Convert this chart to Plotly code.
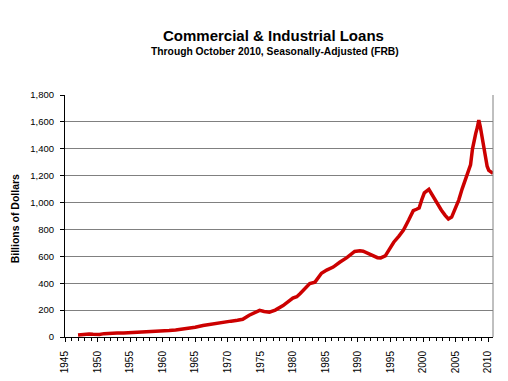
import plotly.graph_objects as go

# Data: Commercial & Industrial Loans, billions of dollars
years = [1947.0, 1947.5, 1948.0, 1948.7, 1949.3, 1949.8, 1950.3, 1951.0, 1951.8, 1953.0,
         1954.0, 1955.0, 1956.0, 1957.0, 1958.0, 1959.5, 1961.0, 1962.0, 1963.6, 1965.0,
         1966.2, 1967.5, 1969.3, 1970.5, 1971.5, 1972.3, 1973.3, 1974.2, 1974.9, 1975.6,
         1976.4, 1977.3, 1978.5, 1980.0, 1980.6, 1981.1, 1982.0, 1982.6, 1983.4, 1983.9,
         1984.4, 1985.2, 1986.2, 1987.2, 1988.3, 1989.5, 1990.3, 1990.8, 1991.5, 1992.1,
         1993.0, 1993.5, 1994.2, 1994.8, 1995.5, 1996.3, 1997.0, 1997.8, 1998.5, 1999.0,
         1999.4, 1999.8, 2000.2, 2000.9, 2001.5, 2002.1, 2002.8, 2003.4, 2003.9, 2004.4,
         2005.0, 2005.5, 2006.0, 2006.5, 2007.0, 2007.3, 2007.6, 2007.9, 2008.1, 2008.35,
         2008.57, 2008.8, 2009.1, 2009.35, 2009.6, 2009.85, 2010.1, 2010.4, 2010.75]
loans = [15, 18, 21, 23, 20, 17, 19, 25, 29, 30,
         29, 31, 36, 38, 38, 43, 48, 52, 60, 72,
         85, 96, 112, 118, 124, 132, 162, 185, 198, 190,
         184, 200, 234, 290, 300, 322, 370, 398, 408, 440,
         474, 498, 520, 556, 590, 636, 642, 638, 622, 606,
         590, 588, 603, 650, 705, 750, 795, 870, 940, 950,
         960, 1020, 1072, 1098, 1050, 993, 945, 905, 878, 892,
         960, 1020, 1100, 1170, 1230, 1280, 1400, 1480, 1515, 1560,
         1613, 1564, 1480, 1420, 1340, 1270, 1240, 1229, 1217]

title_text = "Commercial & Industrial Loans"
subtitle_text = "Through October 2010, Seasonally-Adjusted (FRB)"
y_title = "Billions of Dollars"

FONT = "Liberation Sans, Arial, sans-serif"

fig = go.Figure()
fig.add_trace(go.Scatter(
    x=years, y=loans, mode="lines",
    line=dict(color="#CC0000", width=3.5),
    hoverinfo="skip", showlegend=False,
))

# The page body adds an 8px offset, so the figure is 500x373 with margins shifted.
fig.update_layout(
    width=500, height=373,
    margin=dict(l=57, r=15, t=87, b=44, autoexpand=False),
    paper_bgcolor="white", plot_bgcolor="white",
    font=dict(family=FONT, color="black"),
    xaxis=dict(
        range=[1945, 2010.75], tickmode="linear", tick0=1945, dtick=5,
        ticks="outside", ticklen=4, tickcolor="black", tickwidth=1,
        showline=True, linecolor="black", linewidth=1,
        showgrid=False, zeroline=False, tickangle=-90, automargin=False,
        tickfont=dict(size=10, family=FONT, color="black"),
        ticklabelstandoff=5,
        minor=dict(dtick=1, tick0=1945, ticks="outside", ticklen=3,
                   tickcolor="black", showgrid=False),
    ),
    yaxis=dict(
        range=[0, 1800], tickmode="linear", tick0=0, dtick=200, tickformat=",",
        ticks="outside", ticklen=4, tickcolor="black", automargin=False,
        showline=True, linecolor="black", linewidth=1,
        showgrid=True, gridcolor="#808080", gridwidth=1, zeroline=False,
        tickfont=dict(size=9.5, family=FONT, color="black"),
        ticklabelstandoff=4,
    ),
    shapes=[dict(type="line", xref="paper", yref="paper", x0=1, x1=1, y0=0, y1=1,
                 line=dict(color="#808080", width=1))],
    annotations=[
        dict(text="<b>" + title_text + "</b>", xref="paper", yref="paper",
             x=0.487, y=1.245, xanchor="center", yanchor="middle", showarrow=False,
             font=dict(size=15, family=FONT, color="black")),
        dict(text="<b>" + subtitle_text + "</b>", xref="paper", yref="paper",
             x=0.49, y=1.178, xanchor="center", yanchor="middle", showarrow=False,
             font=dict(size=10.3, family=FONT, color="black")),
        dict(text="<b>" + y_title + "</b>", xref="paper", yref="paper",
             x=-0.117, y=0.49, xanchor="center", yanchor="middle", showarrow=False,
             textangle=-90, font=dict(size=10.5, family=FONT, color="black")),
    ],
)

fig.write_html("out.html")
